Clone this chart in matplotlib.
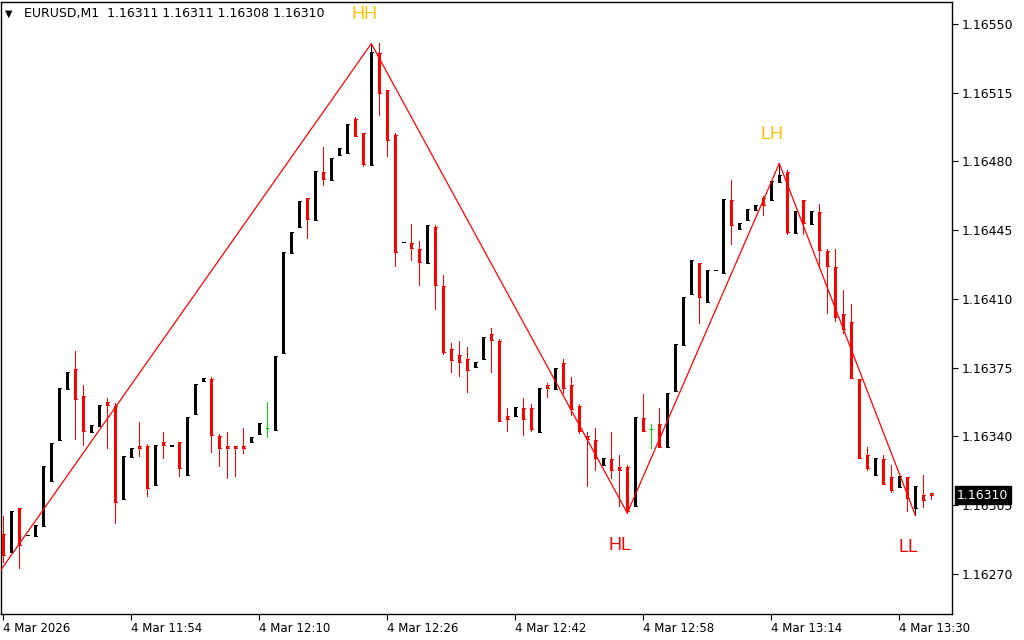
import numpy as np
import pandas as pd
import matplotlib
matplotlib.use("Agg")
import matplotlib.pyplot as plt

symbol_header = "EURUSD,M1  1.16311 1.16311 1.16308 1.16310"
start_time = "2026-03-04 11:38"

opens = [1.162903, 1.162811, 1.163035, 1.162896, 1.162894, 1.162945, 1.163174, 1.163383, 1.163643, 1.163743,
         1.163606, 1.163424, 1.163453, 1.163575, 1.163555, 1.163083, 1.163295, 1.163351, 1.163351, 1.163153,
         1.163372, 1.163353, 1.163372, 1.163204, 1.163516, 1.163684, 1.163692, 1.163402, 1.163351, 1.163351,
         1.163351, 1.163373, 1.163414, 1.163441, 1.163434, 1.163826, 1.164334, 1.164468, 1.164614, 1.164503,
         1.164748, 1.164706, 1.164833, 1.164843, 1.165016, 1.164945, 1.164784, 1.165352, 1.165164, 1.164935,
         1.164388, 1.164385, 1.164354, 1.164285, 1.164466, 1.164166, 1.163845, 1.163815, 1.163794, 1.163755,
         1.163796, 1.163921, 1.163886, 1.163504, 1.163504, 1.163545, 1.163545, 1.163424, 1.163662, 1.163643,
         1.163774, 1.163662, 1.163555, 1.163402, 1.163382, 1.163256, 1.163285, 1.163244, 1.163244, 1.163047,
         1.163494, 1.163439, 1.163463, 1.163348, 1.163633, 1.163867, 1.164127, 1.164283, 1.164086, 1.164245,
         1.164234, 1.164604, 1.164456, 1.164502, 1.164553, 1.164614, 1.164604, 1.164695, 1.164746, 1.164436,
         1.164604, 1.164482, 1.164543, 1.164344, 1.164263, 1.164023, 1.163983, 1.163692, 1.163305, 1.163205,
         1.163285, 1.163193, 1.163144, 1.163193, 1.163037, 1.163102, 1.163110]

highs = [1.162995, 1.163020, 1.163035, 1.162899, 1.162949, 1.163249, 1.163366, 1.163647, 1.163728, 1.163835,
         1.163663, 1.163458, 1.163560, 1.163594, 1.163569, 1.163300, 1.163341, 1.163475, 1.163361, 1.163356,
         1.163424, 1.163357, 1.163372, 1.163499, 1.163667, 1.163697, 1.163703, 1.163412, 1.163422, 1.163351,
         1.163443, 1.163395, 1.163468, 1.163575, 1.163809, 1.164339, 1.164441, 1.164599, 1.164614, 1.164751,
         1.164875, 1.164818, 1.164869, 1.164991, 1.165026, 1.164945, 1.165400, 1.165405, 1.165164, 1.164945,
         1.164392, 1.164482, 1.164395, 1.164477, 1.164477, 1.164222, 1.163876, 1.163886, 1.163855, 1.163779,
         1.163906, 1.163952, 1.163896, 1.163545, 1.163550, 1.163596, 1.163565, 1.163647, 1.163672, 1.163748,
         1.163794, 1.163703, 1.163565, 1.163422, 1.163443, 1.163290, 1.163422, 1.163305, 1.163254, 1.163500,
         1.163616, 1.163463, 1.163545, 1.163621, 1.163871, 1.164110, 1.164298, 1.164283, 1.164247, 1.164249,
         1.164609, 1.164706, 1.164487, 1.164558, 1.164578, 1.164624, 1.164701, 1.164790, 1.164757, 1.164548,
         1.164604, 1.164548, 1.164583, 1.164354, 1.164354, 1.164146, 1.164074, 1.163692, 1.163346, 1.163290,
         1.163305, 1.163254, 1.163198, 1.163193, 1.163147, 1.163204, 1.163110]

lows = [1.162762, 1.162811, 1.162731, 1.162896, 1.162894, 1.162945, 1.163174, 1.163383, 1.163643, 1.163387,
        1.163358, 1.163424, 1.163453, 1.163343, 1.162961, 1.163083, 1.163295, 1.163300, 1.163097, 1.163153,
        1.163290, 1.163353, 1.163200, 1.163204, 1.163516, 1.163684, 1.163321, 1.163249, 1.163188, 1.163198,
        1.163314, 1.163373, 1.163414, 1.163399, 1.163434, 1.163826, 1.164334, 1.164468, 1.164412, 1.164503,
        1.164682, 1.164706, 1.164833, 1.164843, 1.164930, 1.164778, 1.164784, 1.165038, 1.164829, 1.164269,
        1.164388, 1.164300, 1.164171, 1.164285, 1.164050, 1.163821, 1.163730, 1.163709, 1.163628, 1.163755,
        1.163796, 1.163730, 1.163480, 1.163429, 1.163504, 1.163409, 1.163429, 1.163424, 1.163602, 1.163643,
        1.163623, 1.163511, 1.163419, 1.163149, 1.163230, 1.163256, 1.163190, 1.163047, 1.163012, 1.163047,
        1.163429, 1.163343, 1.163348, 1.163348, 1.163633, 1.163867, 1.164127, 1.163979, 1.164086, 1.164245,
        1.164234, 1.164381, 1.164456, 1.164502, 1.164553, 1.164527, 1.164604, 1.164695, 1.164431, 1.164436,
        1.164431, 1.164482, 1.164258, 1.164030, 1.163989, 1.163928, 1.163699, 1.163292, 1.163230, 1.163205,
        1.163159, 1.163118, 1.163144, 1.163022, 1.163000, 1.163042, 1.163080]

closes = [1.162796, 1.163020, 1.162847, 1.162899, 1.162949, 1.163249, 1.163366, 1.163647, 1.163728, 1.163592,
          1.163429, 1.163458, 1.163560, 1.163561, 1.163068, 1.163300, 1.163341, 1.163343, 1.163139, 1.163356,
          1.163358, 1.163357, 1.163241, 1.163499, 1.163667, 1.163697, 1.163409, 1.163341, 1.163341, 1.163341,
          1.163341, 1.163395, 1.163468, 1.163441, 1.163809, 1.164339, 1.164441, 1.164599, 1.164509, 1.164751,
          1.164712, 1.164818, 1.164869, 1.164991, 1.164930, 1.164789, 1.165359, 1.165150, 1.164911, 1.164341,
          1.164392, 1.164361, 1.164290, 1.164477, 1.164173, 1.163831, 1.163791, 1.163780, 1.163740, 1.163779,
          1.163906, 1.163892, 1.163480, 1.163490, 1.163550, 1.163490, 1.163439, 1.163647, 1.163648, 1.163748,
          1.163648, 1.163541, 1.163429, 1.163388, 1.163292, 1.163290, 1.163230, 1.163230, 1.163022, 1.163500,
          1.163429, 1.163439, 1.163348, 1.163621, 1.163871, 1.164110, 1.164298, 1.164111, 1.164247, 1.164249,
          1.164609, 1.164478, 1.164487, 1.164558, 1.164578, 1.164578, 1.164701, 1.164731, 1.164441, 1.164548,
          1.164487, 1.164548, 1.164349, 1.164268, 1.164010, 1.163948, 1.163699, 1.163292, 1.163241, 1.163290,
          1.163159, 1.163129, 1.163198, 1.163088, 1.163147, 1.163078, 1.163100]

# ZigZag vertices: (bar index, price, label)
zz_index = [-1, 46, 78, 97, 114]
zz_price = [1.16268, 1.16540, 1.16301, 1.16479, 1.16300]
zz_labels = ["", "HH", "HL", "LH", "LL"]

y_ticks = [1.16270, 1.16305, 1.16340, 1.16375, 1.16410, 1.16445, 1.16480, 1.16515, 1.16550]
x_tick_labels = ["4 Mar 2026", "4 Mar 11:54", "4 Mar 12:10", "4 Mar 12:26",
                 "4 Mar 12:42", "4 Mar 12:58", "4 Mar 13:14", "4 Mar 13:30"]
current_price = 1.16310

# ---------------------------------------------------------------
n = len(opens)
times = pd.date_range(start_time, periods=n, freq="min")
x = np.arange(n)
o = np.array(opens); h = np.array(highs); l = np.array(lows); c = np.array(closes)

colors = []
for oo, cc in zip(o, c):
    if cc > oo:
        colors.append("black")
    elif cc < oo:
        colors.append("#FF0000")
    else:
        colors.append("#00E000")

fig = plt.figure(figsize=(10.24, 6.4), dpi=100)
fig.patch.set_facecolor("white")
W, H = 1024, 640
ax = fig.add_axes([1 / W, 1 - 614 / H, 951 / W, 612 / H])
ax.set_facecolor("white")

half = 0.19
ax.vlines(x, l, h, colors=colors, linewidth=0.72, zorder=2, antialiased=False)
ax.bar(x, c - o, bottom=o, width=2 * half, color=colors, linewidth=0,
       zorder=3, antialiased=False)
ax.hlines(o, x - half, x + half, colors=colors, linewidth=0.72, zorder=3, antialiased=False)
ax.hlines(c, x - half, x + half, colors=colors, linewidth=0.72, zorder=3, antialiased=False)

# zigzag
ax.plot(zz_index, zz_price, color="#FF0000", linewidth=0.9, zorder=4)
label_colors = {"HH": "#FFC000", "LH": "#FFC000", "HL": "#FF0000", "LL": "#FF0000"}
for xi, pi, lab in zip(zz_index, zz_price, zz_labels):
    if not lab:
        continue
    dy = 29 if lab in ("HH", "LH") else -32
    ax.annotate(lab, xy=(xi, pi), xytext=(-7, dy), textcoords="offset pixels",
                ha="center", va="center", color=label_colors[lab],
                fontsize=13, family="Liberation Sans", zorder=5,
                annotation_clip=False)

ax.set_xlim(-0.29, 118.59)
ax.set_ylim(1.162496, 1.165612)

# axes styling
for sp in ax.spines.values():
    sp.set_color("black")
    sp.set_linewidth(1.0)
ax.yaxis.tick_right()
ax.set_yticks(y_ticks)
ax.set_yticklabels([f"{v:.5f}" for v in y_ticks])
ax.tick_params(axis="y", direction="out", length=4, width=0.8, pad=3,
               labelsize=9, colors="black")

tick_pos = np.arange(0, n, 16)[:len(x_tick_labels)]
ax.set_xticks(tick_pos)
ax.set_xticklabels(x_tick_labels, ha="left")
ax.tick_params(axis="x", direction="out", length=4, width=0.8, pad=2,
               labelsize=8.5, colors="black")
for lab in ax.get_xticklabels():
    lab.set_horizontalalignment("left")

# current price label
ax.annotate(f"{current_price:.5f}", xy=(1, current_price),
            xycoords=("axes fraction", "data"), xytext=(5, 0),
            textcoords="offset pixels", ha="left", va="center",
            color="white", fontsize=9, zorder=10, annotation_clip=False,
            bbox=dict(boxstyle="square,pad=0.2", fc="black", ec="black"))

# header
fig.text(5 / W, 1 - 14 / H, "\u25BC", fontsize=7, va="center", ha="left", color="black")
fig.text(24 / W, 1 - 14 / H, symbol_header, fontsize=9, va="center", ha="left", color="black")

fig.savefig("out.png", dpi=100, facecolor="white")
